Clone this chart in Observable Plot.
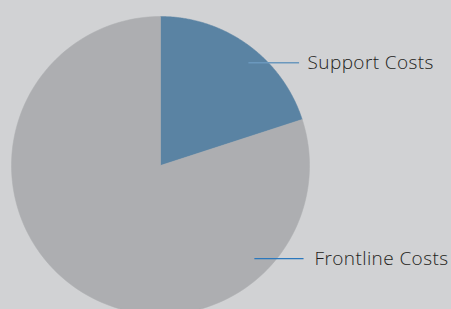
<!DOCTYPE html>
<html>
<head>
<meta charset="utf-8">
<script src="https://cdn.jsdelivr.net/npm/d3@7"></script>
<script src="https://cdn.jsdelivr.net/npm/@observablehq/plot@0.6"></script>
<style>
  html, body { margin: 0; padding: 0; background: #d1d2d4; overflow: hidden; }
  #chart svg { display: block; overflow: visible; }
</style>
</head>
<body>
<div id="chart"></div>
<script>
const categories = ["Support Costs", "Frontline Costs"];
const shares = [20, 80];
const colors = ["#5a83a3", "#adaeb1"];

// slice polygons from d3.pie angles (clockwise from 12 o'clock)
const arcs = d3.pie().sort(null).value(d => d)(shares);
const slicePts = [];
arcs.forEach((a, i) => {
  const steps = 180;
  slicePts.push({cat: categories[i], u: 0, v: 0});
  for (let k = 0; k <= steps; k++) {
    const t = a.startAngle + (a.endAngle - a.startAngle) * k / steps;
    slicePts.push({cat: categories[i], u: Math.sin(t), v: Math.cos(t)});
  }
  slicePts.push({cat: categories[i], u: 0, v: 0});
});

// label anchors (in pie-radius units)
const labelPos = [
  {u0: 0.59, u1: 0.93, v: 0.69, tx: 0.987, stroke: "#6b98bd", sw: 1.5},
  {u0: 0.63, u1: 0.96, v: -0.625, tx: 1.034, stroke: "#2b78bd", sw: 1.2}
];
const labels = categories.map((c, i) => ({cat: c, ...labelPos[i]}));

const chart = Plot.plot({
  width: 451,
  height: 309,
  margin: 0,
  style: {background: "transparent", fontFamily: "Open Sans, sans-serif"},
  x: {domain: [-1, 1], range: [11, 309], axis: null},
  y: {domain: [-1, 1], range: [314, 16], axis: null},
  color: {domain: categories, range: colors},
  marks: [
    Plot.line(slicePts, {x: "u", y: "v", z: "cat", fill: "cat", stroke: "cat", strokeWidth: 0.5, curve: "linear"}),
    Plot.link(labels, {x1: "u0", x2: "u1", y1: "v", y2: "v", stroke: d => d.stroke, strokeWidth: d => d.sw}),
    Plot.text(labels, {x: "tx", y: "v", text: "cat", textAnchor: "start", fontSize: 19, fontWeight: 300, fill: "#1e1e20"})
  ]
});
chart.querySelectorAll("text").forEach(t => t.style.letterSpacing = "0.4px");
document.getElementById("chart").appendChild(chart);
</script>
</body>
</html>
